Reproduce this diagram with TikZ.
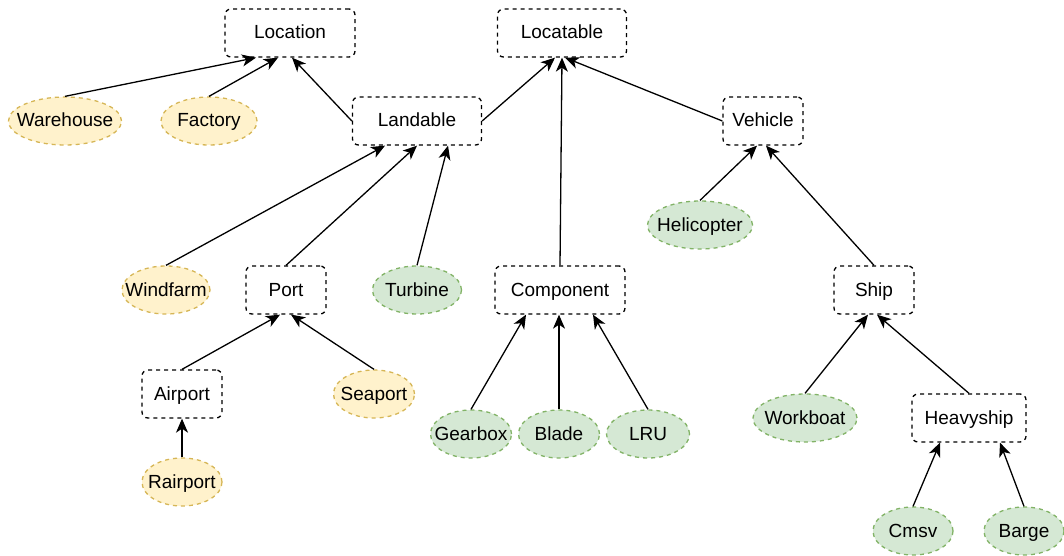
\documentclass[tikz,border=0pt]{standalone}
\usepackage{fontspec}
\setmainfont{Liberation Sans}
\usepackage{xcolor}
\usetikzlibrary{arrows.meta,shapes.geometric}

\definecolor{amfill}{HTML}{FFF2CC}
\definecolor{amline}{HTML}{D6B656}
\definecolor{vefill}{HTML}{D5E8D4}
\definecolor{veline}{HTML}{82B366}

\begin{document}
\begin{tikzpicture}[x=1pt,y=-1pt,
  base/.style={dash pattern=on 4pt off 4pt,line width=1.3pt,inner sep=0pt,
               minimum height=48pt,text height=15.5pt,text depth=3.5pt,
               font=\fontsize{19}{23}\selectfont},
  abst/.style={base,draw=black,rectangle,rounded corners=6pt},
  amar/.style={base,ellipse,inner xsep=-12pt,draw=amline,fill=amfill},
  verd/.style={base,ellipse,inner xsep=-12pt,draw=veline,fill=vefill},
  fl/.style={-{Stealth[length=14pt,width=12pt,inset=4pt]},line width=1.3pt}]

  \useasboundingbox (0,0) rectangle (1064,556);

  % clases abstractas
  \node[abst,minimum width=130pt] (loc)  at (290,33)  {Location};
  \node[abst,minimum width=129pt] (lcb)  at (562,33)  {Locatable};
  \node[abst,minimum width=129pt] (land) at (417,121) {Landable};
  \node[abst,minimum width=80pt]  (veh)  at (763,121) {Vehicle};
  \node[abst,minimum width=80pt]  (port) at (286,290) {Port};
  \node[abst,minimum width=130pt] (comp) at (560,290) {Component};
  \node[abst,minimum width=80pt]  (ship) at (874,290) {Ship};
  \node[abst,minimum width=80pt]  (air)  at (182,394) {Airport};
  \node[abst,minimum width=114pt] (hvy)  at (969,418) {Heavyship};

  % lugares
  \node[amar,minimum width=113pt] (ware) at (65,121)  {Warehouse};
  \node[amar,minimum width=96pt]  (fact) at (209,121) {Factory};
  \node[amar,minimum width=88pt]  (wind) at (166,290) {Windfarm};
  \node[amar,minimum width=81pt]  (sea)  at (374,394) {Seaport};
  \node[amar,minimum width=80pt]  (rair) at (182,482) {Rairport};

  % objetos
  \node[verd,minimum width=89pt]  (turb) at (417,290) {Turbine};
  \node[verd,minimum width=81pt]  (gear) at (471,434) {Gearbox};
  \node[verd,minimum width=81pt]  (blad) at (559,434) {Blade};
  \node[verd,minimum width=83pt]  (lru)  at (648,434) {LRU};
  \node[verd,minimum width=105pt] (heli) at (700,225) {Helicopter};
  \node[verd,minimum width=104pt] (work) at (805,418) {Workboat};
  \node[verd,minimum width=80pt]  (cmsv) at (913,531) {Cmsv};
  \node[verd,minimum width=80pt]  (barg) at (1024,531) {Barge};

  \draw[fl] (ware.north) -- ([xshift=-34pt]loc.south);
  \draw[fl] (fact.north) -- ([xshift=-12pt]loc.south);
  \draw[fl] (land.west)  -- ([xshift=2pt]loc.south);
  \draw[fl] (land.east)  -- ([xshift=-7pt]lcb.south);
  \draw[fl] (comp.north) -- (lcb.south);
  \draw[fl] (veh.west)   -- ([xshift=3pt]lcb.south);
  \draw[fl] (wind.north) -- ([xshift=-32pt]land.south);
  \draw[fl] (port.north) -- (land.south);
  \draw[fl] (turb.north) -- ([xshift=31pt]land.south);
  \draw[fl] (heli.north) -- ([xshift=-6pt]veh.south);
  \draw[fl] (ship.north) -- ([xshift=3pt]veh.south);
  \draw[fl] (air.north)  -- ([xshift=-6pt]port.south);
  \draw[fl] (sea.north)  -- ([xshift=5pt]port.south);
  \draw[fl] (rair.north) -- (air.south);
  \draw[fl] (gear.north) -- ([xshift=-34pt]comp.south);
  \draw[fl] (blad.north) -- ([xshift=-1pt]comp.south);
  \draw[fl] (lru.north)  -- ([xshift=33pt]comp.south);
  \draw[fl] (work.north) -- ([xshift=-6pt]ship.south);
  \draw[fl] (hvy.north)  -- ([xshift=3pt]ship.south);
  \draw[fl] (cmsv.north) -- ([xshift=-29pt]hvy.south);
  \draw[fl] (barg.north) -- ([xshift=31pt]hvy.south);
\end{tikzpicture}
\end{document}
